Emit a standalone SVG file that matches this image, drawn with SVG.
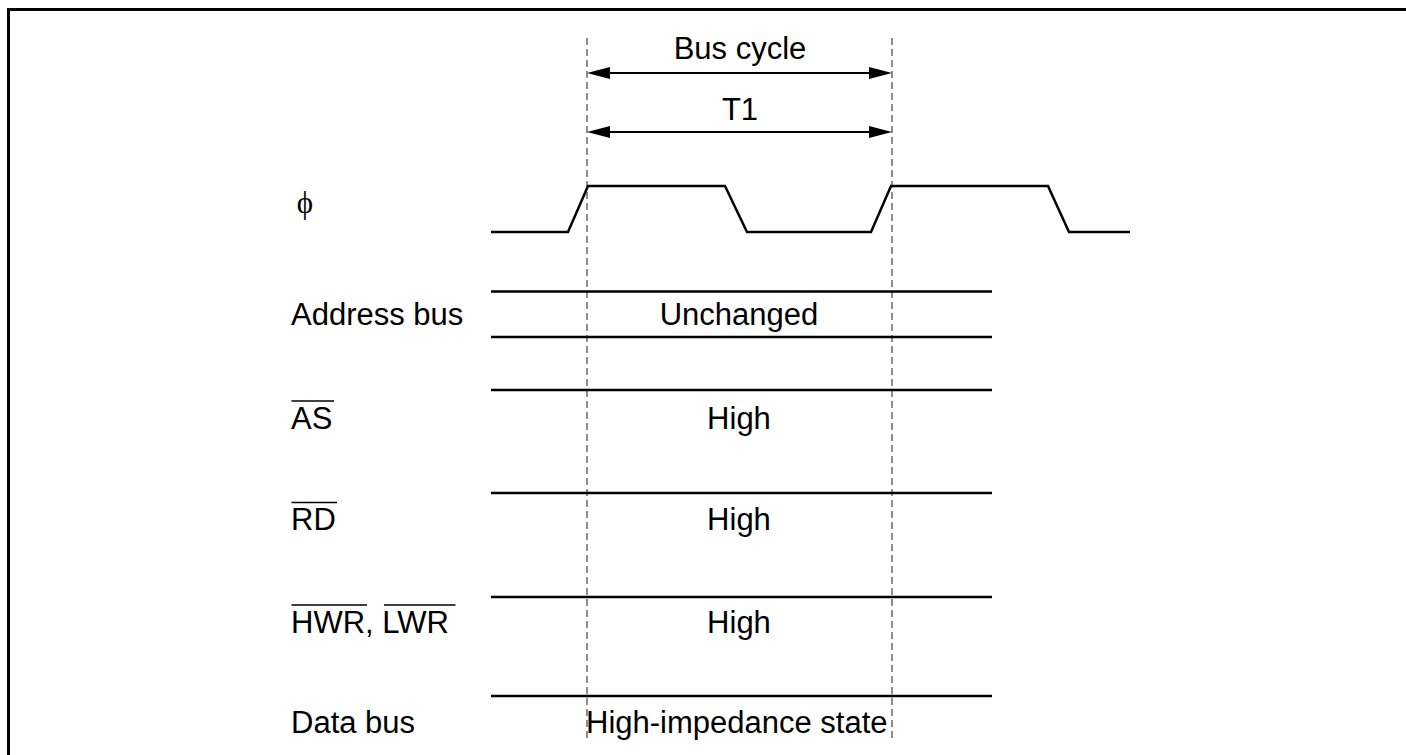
<svg xmlns="http://www.w3.org/2000/svg" width="1406" height="755" viewBox="0 0 1406 755">
<style>
.t{font-family:"Liberation Sans",Arial,sans-serif;font-size:31px;fill:#000}
.c{text-anchor:middle}
.w{fill:none;stroke:#000;stroke-width:2.5}
.o{fill:none;stroke:#000;stroke-width:1.5}
.d{fill:none;stroke:#444;stroke-width:1.2;stroke-dasharray:7 4}
.a{fill:none;stroke:#000;stroke-width:1.8}
.h{fill:#000}
</style>
<rect width="1406" height="755" fill="#fff"/>
<path d="M8.5,755 V9.5 H1406" fill="none" stroke="#000" stroke-width="3"/>
<g id="guides">
<line class="d" x1="587" y1="38" x2="587" y2="742"/>
<line class="d" x1="892" y1="38" x2="892" y2="742"/>
</g>
<g id="connectors">
<line class="a" x1="600" y1="73" x2="880" y2="73"/>
<polygon class="h" points="587,73 610,67 610,79"/>
<polygon class="h" points="892,73 869,67 869,79"/>
<line class="a" x1="600" y1="132" x2="880" y2="132"/>
<polygon class="h" points="587,132 610,126 610,138"/>
<polygon class="h" points="892,132 869,126 869,138"/>
</g>
<g id="bus-cycle"><text class="t c" x="740" y="59">Bus cycle</text></g>
<g id="t1"><text class="t c" x="740" y="120">T1</text></g>
<g id="phi">
<text x="305" y="213" text-anchor="middle" style="font-family:'Liberation Serif','Times New Roman',serif;font-size:31px">ϕ</text>
<polyline class="w" points="491,232 568,232 588,186 725,186 747,232 871,232 891,186 1048,186 1069,232 1130,232"/>
</g>
<g id="address-bus">
<text class="t" x="291" y="325">Address bus</text>
<line class="w" x1="491" y1="291.5" x2="992" y2="291.5"/>
<line class="w" x1="491" y1="337" x2="992" y2="337"/>
<text class="t c" x="739" y="325">Unchanged</text>
</g>
<g id="as">
<text class="t" x="291" y="428.5">AS</text>
<line class="o" x1="291.5" y1="401" x2="334" y2="401"/>
<line class="w" x1="491" y1="390" x2="992" y2="390"/>
<text class="t c" x="739" y="428.5">High</text>
</g>
<g id="rd">
<text class="t" x="291" y="530">RD</text>
<line class="o" x1="291.5" y1="502.5" x2="337" y2="502.5"/>
<line class="w" x1="491" y1="493" x2="992" y2="493"/>
<text class="t c" x="739" y="530">High</text>
</g>
<g id="hwr-lwr">
<text class="t" x="291" y="633">HWR, LWR</text>
<line class="o" x1="291.5" y1="605" x2="367" y2="605"/>
<line class="o" x1="384" y1="605" x2="455.5" y2="605"/>
<line class="w" x1="491" y1="597" x2="992" y2="597"/>
<text class="t c" x="739" y="633">High</text>
</g>
<g id="data-bus">
<text class="t" x="291" y="733">Data bus</text>
<line class="w" x1="491" y1="696" x2="992" y2="696"/>
<text class="t" x="586" y="733">High-impedance state</text>
</g>
</svg>
